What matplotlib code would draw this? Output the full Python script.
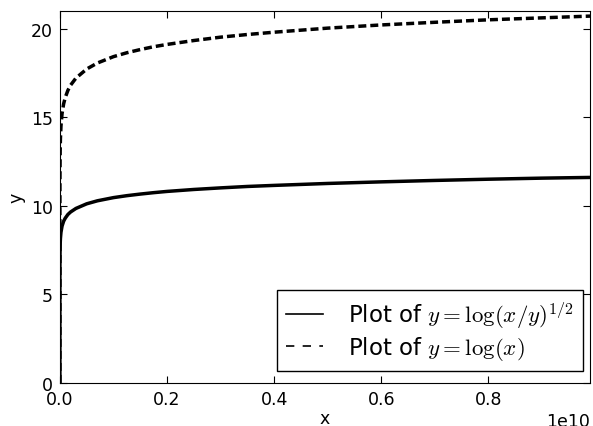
import numpy as np
import matplotlib
matplotlib.use("Agg")
import matplotlib.pyplot as plt
from matplotlib.lines import Line2D
from matplotlib.ticker import MultipleLocator

# values (x in units of 1e10)
x_vals = [0, 1e-7, 1e-5, 1e-4, 5e-4, 0.001, 0.002, 0.004, 0.007, 0.01, 0.015,
          0.02, 0.03, 0.05, 0.07, 0.1, 0.125, 0.15, 0.175, 0.2, 0.25, 0.3, 0.35,
          0.4, 0.5, 0.6, 0.7, 0.8, 0.9, 0.99]
y_sqrt = [0, 3.55, 5.85, 7.0, 7.81, 8.15, 8.50, 8.85, 9.13, 9.30, 9.51,
          9.65, 9.85, 10.11, 10.28, 10.46, 10.57, 10.66, 10.74, 10.81, 10.92, 11.01, 11.09,
          11.15, 11.26, 11.35, 11.43, 11.50, 11.56, 11.60]
y_log = [0, 4.6, 9.2, 11.5, 13.1, 13.8, 14.5, 15.2, 15.76, 16.11, 16.52,
         16.81, 17.21, 17.72, 18.06, 18.42, 18.64, 18.82, 18.98, 19.11, 19.33, 19.52, 19.67,
         19.80, 20.03, 20.21, 20.36, 20.50, 20.61, 20.71]
labels = [r"Plot of $y=\log(x/y)^{1/2}$", r"Plot of $y=\log(x)$"]

plt.rcParams["mathtext.fontset"] = "cm"
plt.rcParams["xtick.direction"] = "in"
plt.rcParams["ytick.direction"] = "in"
plt.rcParams["xtick.top"] = True
plt.rcParams["ytick.right"] = True
plt.rcParams["xtick.major.size"] = 5
plt.rcParams["ytick.major.size"] = 5
plt.rcParams["font.size"] = 12.5

x = np.array(x_vals) * 1e10

fig = plt.figure(figsize=(5.93, 4.27), dpi=100)
ax = fig.add_axes([0.101, 0.101, 0.894, 0.871])
ax.plot(x, y_sqrt, color="k", ls="-", lw=2.5)
ax.plot(x, y_log, color="k", ls=(0, (2.3, 1.15)), lw=2.5)
ax.set_xlim(0, 0.99e10)
ax.set_ylim(0, 21)
ax.xaxis.set_major_locator(MultipleLocator(0.2e10))
ax.yaxis.set_major_locator(MultipleLocator(5))
ax.ticklabel_format(axis="x", style="sci", scilimits=(10, 10))
ax.set_xlabel("x", labelpad=1)
ax.set_ylabel("y", labelpad=4)
ax.tick_params(pad=5)

# legend handles are drawn thin in the reference
handles = [Line2D([], [], color="k", lw=1.2, ls="-"),
           Line2D([], [], color="k", lw=1.2, ls=(0, (5, 5)))]
leg = ax.legend(handles, labels, loc="lower right", fontsize=16.5, fancybox=False,
                framealpha=1, edgecolor="black", borderaxespad=0,
                bbox_to_anchor=(583 / 593, 55 / 427), bbox_transform=fig.transFigure,
                handlelength=1.6, handletextpad=1.1, labelspacing=0.15, borderpad=0.4)
leg.get_frame().set_linewidth(1)

fig.savefig("out.png", dpi=100)
